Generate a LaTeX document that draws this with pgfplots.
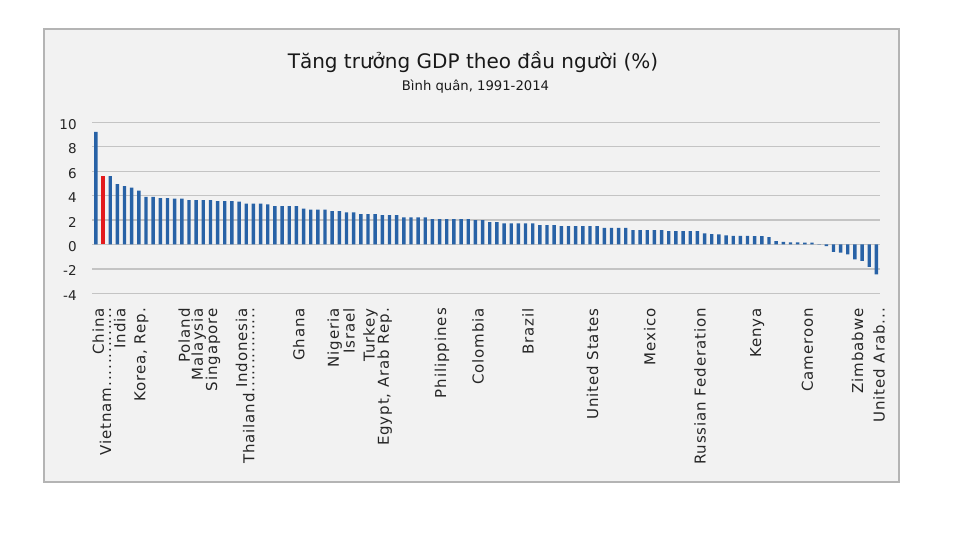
\documentclass[border=0pt]{standalone}
\usepackage{fontspec}
\setmainfont{DejaVu Sans}
\newfontfamily\labfont[LetterSpace=6]{DejaVu Sans}
\usepackage{pgfplots}
\pgfplotsset{compat=1.18}
\definecolor{panelbg}{HTML}{F2F2F2}
\definecolor{panelborder}{HTML}{B4B4B4}
\definecolor{gridgray}{HTML}{C4C4C4}
\definecolor{barblue}{HTML}{2862A6}
\definecolor{barred}{HTML}{E31A1C}
\newcommand\vnleader{..............}
\newcommand\thleader{...............}
\newcommand\tdots{...}
\begin{document}
\begin{tikzpicture}[x=1pt,y=1pt]
\fill[white] (0,0) rectangle (960,540);
\useasboundingbox (0,0) rectangle (960,540);
\fill[panelbg] (44.3,58.3) rectangle (899.3,511);
\draw[panelborder, line width=2pt] (44.3,58.3) rectangle (899.3,511);
\node[font=\fontsize{20}{23}\selectfont, text=black!90] at (473,478) {Tăng trưởng GDP theo đầu người (\%)};
\node[font=\fontsize{13.2}{15}\selectfont, text=black!90] at (475.5,453) {Bình quân, 1991-2014};
\begin{axis}[
  at={(92.3pt,246.7pt)}, anchor=south west,
  scale only axis, width=787.7pt, height=171pt,
  xmin=0.5, xmax=110.5, ymin=-4, ymax=10,
  ytick={-4,-2,0,2,4,6,8,10},
  ymajorgrids, grid style={gridgray, line width=1.3pt},
  axis line style={draw=none},
  major tick length=0pt,
  /pgf/number format/assume math mode=true,
  yticklabel style={font=\fontsize{13.5}{16}\selectfont, text=black!85, inner sep=0pt, xshift=-15.5pt, yshift=-2pt},
  xtick={1,2,4,7,13,15,17,21,22,29,34,36,39,41,49,54,61,70,78,85,93,100,107,110},
  xticklabels={China,Vietnam\vnleader,India,{Korea, Rep.},Poland,Malaysia,Singapore,Indonesia,Thailand\thleader,Ghana,Nigeria,Israel,Turkey,{Egypt, Arab Rep.},Philippines,Colombia,Brazil,United States,Mexico,Russian Federation,Kenya,Cameroon,Zimbabwe,United Arab\tdots},
  xticklabel shift=14.7pt,
  xticklabel style={xshift=2.5pt, rotate=90, anchor=east, inner sep=0pt, font=\labfont\fontsize{15}{17}\selectfont, text=black!85},
  ybar, bar width=3.4pt,
  clip=false,
]
\addplot[fill=barblue, draw=none, bar shift=0pt] coordinates {
(1,9.21)(3,5.59)(4,4.93)(5,4.77)(6,4.66)(7,4.41)(8,3.90)(9,3.90)(10,3.79)
(11,3.79)(12,3.76)(13,3.76)(14,3.62)(15,3.62)(16,3.62)(17,3.62)(18,3.54)(19,3.54)(20,3.54)
(21,3.51)(22,3.35)(23,3.35)(24,3.35)(25,3.27)(26,3.13)(27,3.13)(28,3.13)(29,3.13)(30,2.94)
(31,2.86)(32,2.86)(33,2.86)(34,2.72)(35,2.72)(36,2.62)(37,2.62)(38,2.48)(39,2.48)(40,2.48)
(41,2.40)(42,2.40)(43,2.40)(44,2.21)(45,2.21)(46,2.21)(47,2.21)(48,2.07)(49,2.07)(50,2.07)
(51,2.07)(52,2.07)(53,2.07)(54,1.99)(55,1.99)(56,1.83)(57,1.83)(58,1.72)(59,1.72)(60,1.72)
(61,1.72)(62,1.72)(63,1.58)(64,1.58)(65,1.58)(66,1.50)(67,1.50)(68,1.50)(69,1.50)(70,1.50)
(71,1.50)(72,1.36)(73,1.36)(74,1.36)(75,1.36)(76,1.17)(77,1.17)(78,1.17)(79,1.17)(80,1.17)
(81,1.09)(82,1.09)(83,1.09)(84,1.09)(85,1.09)(86,0.90)(87,0.84)(88,0.82)(89,0.74)(90,0.71)
(91,0.71)(92,0.71)(93,0.68)(94,0.68)(95,0.60)(96,0.27)(97,0.22)(98,0.16)(99,0.16)(100,0.14)
(101,0.14)(102,0.02)(103,-0.14)(104,-0.60)(105,-0.68)(106,-0.82)(107,-1.23)(108,-1.34)(109,-1.83)(110,-2.45)
};
\addplot[fill=barred, draw=none, bar shift=0pt] coordinates {(2,5.64)};
\end{axis}
\end{tikzpicture}
\end{document}
